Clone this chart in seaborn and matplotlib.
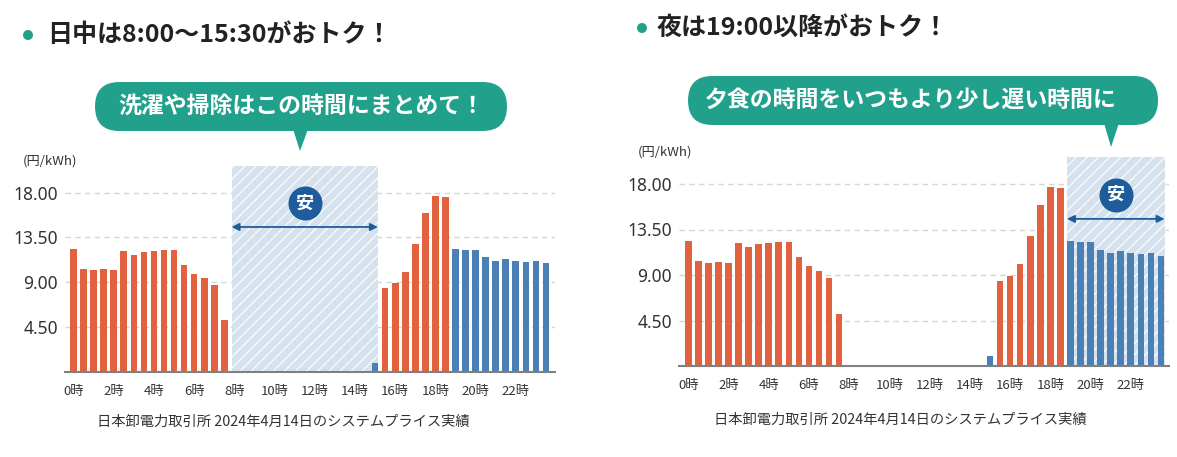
import numpy as np
import pandas as pd
import matplotlib
matplotlib.use("Agg")
import matplotlib.pyplot as plt
from matplotlib.patches import FancyBboxPatch, Polygon, Circle
import seaborn as sns

# ---------------- data ----------------
slots = [f"{h}:{m:02d}" for h in range(24) for m in (0, 30)]
prices = [12.39, 10.35, 10.22, 10.32, 10.22, 12.12, 11.72, 12.09,
          12.16, 12.29, 12.29, 10.75, 9.85, 9.39, 8.68, 5.18,
          0, 0, 0, 0, 0, 0, 0, 0,
          0, 0, 0, 0, 0, 0, 0.94, 8.38,
          8.95, 10.05, 12.86, 15.93, 17.70, 17.57, 12.32, 12.22,
          12.22, 11.52, 11.16, 11.36, 11.16, 11.06, 11.16, 10.89]
kind = (["高"] * 16 + ["安"] * 15 + ["高"] * 7 + ["安"] * 10)
tick_labels = [f"{h}時" for h in range(0, 24, 2)]
y_ticks = [4.5, 9.0, 13.5, 18.0]
y_tick_labels = ["4.50", "9.00", "13.50", "18.00"]

titles = ["日中は8:00～15:30がおトク！", "夜は19:00以降がおトク！"]
bubbles = ["洗濯や掃除はこの時間にまとめて！", "夕食の時間をいつもより少し遅い時間に"]
unit_label = "(円/kWh)"
source = "日本卸電力取引所 2024年4月14日のシステムプライス実績"

df = pd.DataFrame({"slot": slots, "price": prices, "kind": kind})

RED = "#e2623f"
BLUE = "#4a80b6"
TEAL = "#21a18b"
DARK_BLUE = "#1f5c9c"
HATCH_BG = "#d5e2ed"

sns.set_style("white")
plt.rcParams["font.family"] = ["Noto Sans CJK JP", "DejaVu Sans"]
plt.rcParams["hatch.linewidth"] = 0.8

W, H = 1177, 457
fig = plt.figure(figsize=(W / 100, H / 100), dpi=100)

panels = [
    dict(rect=[65 / W, (H - 372) / H, 490 / W, (372 - 165.7) / H],
         span=(15.72, 30.28), xlim=(-0.85, 47.9)),
    dict(rect=[679 / W, (H - 366) / H, 490 / W, (366 - 156.7) / H],
         span=(37.65, 47.36), xlim=(-0.92, 47.8)),
]

for p in panels:
    ax = fig.add_axes(p["rect"])
    ax.set_axisbelow(True)
    x0, x1 = p["span"]
    ax.axvspan(x0, x1, facecolor=HATCH_BG, edgecolor="white", hatch="///",
               linewidth=0, zorder=1)
    sns.barplot(data=df, x="slot", y="price", hue="kind", order=slots,
                palette={"高": RED, "安": BLUE}, dodge=False, width=0.66,
                saturation=1, errorbar=None, legend=False, ax=ax, zorder=3,
                edgecolor="none", linewidth=0)
    ax.set_xlim(*p["xlim"])
    ax.set_ylim(0, 20.7)
    ax.set_xlabel("")
    ax.set_ylabel("")
    ax.set_xticks(range(0, 48, 4))
    ax.set_xticklabels(tick_labels, fontsize=9.5, color="#333333")
    ax.set_yticks(y_ticks)
    ax.set_yticklabels(y_tick_labels, fontsize=12.5, color="#333333",
                       family=["Noto Sans", "DejaVu Sans"])
    ax.tick_params(axis="both", length=0)
    ax.tick_params(axis="x", pad=9)
    ax.tick_params(axis="y", pad=5)
    ax.yaxis.grid(True, linestyle=(0, (4, 3)), color="#d6d6d6", linewidth=1)
    ax.xaxis.grid(False)
    for s in ("top", "right", "left"):
        ax.spines[s].set_visible(False)
    ax.spines["bottom"].set_color("#808080")
    ax.spines["bottom"].set_linewidth(1.5)
    ax.spines["bottom"].set_zorder(4)
    ax.patch.set_alpha(0)
    # arrow + badge
    ax.annotate("", xy=(x1, 14.55), xytext=(x0, 14.55),
                arrowprops=dict(arrowstyle="<|-|>", color=DARK_BLUE, lw=1.3,
                                mutation_scale=11, shrinkA=0, shrinkB=0),
                zorder=5)
    xc = (x0 + x1) / 2
    ax.plot([xc], [16.95], marker="o", markersize=24.5, color=DARK_BLUE,
            markeredgewidth=0, zorder=5, clip_on=False)
    ax.text(xc, 16.95, "安", color="white", fontsize=13, fontweight="bold",
            ha="center", va="center", zorder=6)

# ---------------- overlay (titles, bubbles, notes) ----------------
ov = fig.add_axes([0, 0, 1, 1], zorder=10)
ov.set_xlim(0, W)
ov.set_ylim(H, 0)
ov.axis("off")
ov.patch.set_alpha(0)

# titles
for (dx, dy, tx), t in zip([(28, 35, 47), (642, 28, 657)], titles):
    ov.add_patch(Circle((dx, dy), 5, color=TEAL, lw=0))
    ov.text(tx, dy, t, fontsize=18, fontweight="bold", color="#222222",
            ha="left", va="center")

# bubbles
bub = [dict(box=(95, 82, 412, 49), tail=[(293, 129), (308, 129), (300, 151)],
            tx=(95 + 507) / 2, ty=106),
       dict(box=(688, 76, 470, 49), tail=[(1104, 123), (1119, 123), (1111, 147)],
            tx=(688 + 1158) / 2 - 12, ty=100.5)]
for b, t in zip(bub, bubbles):
    x, y, w, h = b["box"]
    ov.add_patch(FancyBboxPatch((x, y), w, h,
                                boxstyle=f"round,pad=0,rounding_size={h / 2}",
                                facecolor=TEAL, edgecolor="none"))
    ov.add_patch(Polygon(b["tail"], closed=True, facecolor=TEAL, edgecolor="none"))
    ov.text(b["tx"], b["ty"], t, fontsize=16.5, fontweight="bold", color="white",
            ha="center", va="center")

# unit labels
ov.text(23, 161, unit_label, fontsize=9.5, color="#333333", ha="left", va="center")
ov.text(638, 152.5, unit_label, fontsize=9.5, color="#333333", ha="left", va="center")

# source notes
ov.text(283.5, 422, source, fontsize=10.3, color="#333333", ha="center", va="center")
ov.text(900, 420, source, fontsize=10.3, color="#333333", ha="center", va="center")

fig.savefig("out.png", dpi=100, facecolor="white")
